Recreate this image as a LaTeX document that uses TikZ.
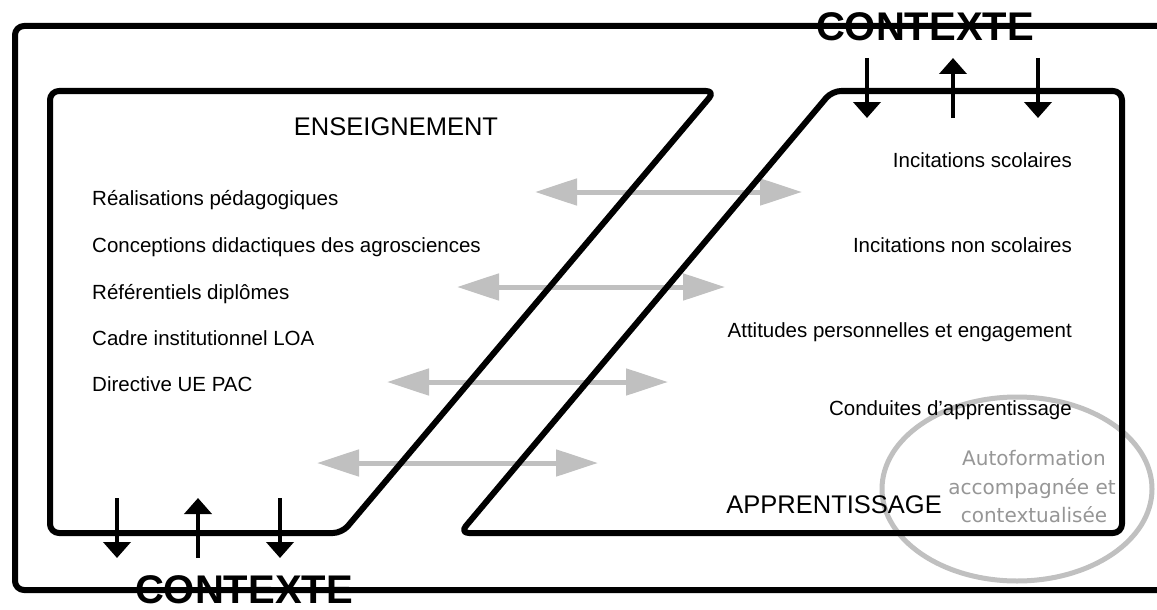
\documentclass[tikz,border=0pt]{standalone}
\usepackage{fontspec}
\setmainfont{Liberation Sans}
\newfontfamily\ctxfont{Liberation Sans}
\newfontfamily\handfont{DejaVu Sans}
\usetikzlibrary{arrows.meta}
\definecolor{arrgray}{RGB}{192,192,192}
\definecolor{ellgray}{RGB}{192,192,192}
\definecolor{txtgray}{RGB}{150,150,150}
\begin{document}
\begin{tikzpicture}[x=1pt,y=-1pt,
  frame/.style={line width=6pt, rounded corners=9pt, line join=round},
  ctx/.style={font=\ctxfont\bfseries\fontsize{40}{40}\selectfont, inner sep=0pt},
  item/.style={font=\fontsize{20.5}{24}\selectfont, inner sep=0pt},
  titletext/.style={font=\fontsize{25.5}{30}\selectfont, inner sep=0pt},
  handtext/.style={font=\handfont\fontsize{20}{24}\selectfont, text=txtgray, inner sep=0pt},
  flow/.style={line width=4pt, -{Triangle[width=27pt,length=16pt]}},
  exch/.style={draw=arrgray, line width=5pt, {Triangle[width=26pt,length=42pt]}-{Triangle[width=26pt,length=42pt]}},
]
\useasboundingbox (0,0) rectangle (1157,610);
\fill[white] (0,0) rectangle (1157,610);

% outer context frame
\coordinate (fa) at (1157,26);
\coordinate (fb) at (15,26);
\coordinate (fc) at (15,590);
\coordinate (fd) at (1157,590);
\draw[frame] (fa) -- (fb) -- (fc) -- (fd);

% ellipse
\draw[ellgray, line width=5pt] (1017,489) ellipse [x radius=135, y radius=92];

% exchange arrows
\coordinate (e1a) at (535,192); \coordinate (e1b) at (802,192);
\coordinate (e2a) at (457,287); \coordinate (e2b) at (725,287);
\coordinate (e3a) at (387,382); \coordinate (e3b) at (668,382);
\coordinate (e4a) at (317,463); \coordinate (e4b) at (598,463);
\draw[exch] (e1a) -- (e1b);
\draw[exch] (e2a) -- (e2b);
\draw[exch] (e3a) -- (e3b);
\draw[exch] (e4a) -- (e4b);

% boxes
\coordinate (l1) at (50,91);  \coordinate (l2) at (715,91);
\coordinate (l3) at (342,533); \coordinate (l4) at (50,533);
\draw[frame] (l1) -- (l2) -- (l3) -- (l4) -- cycle;
\coordinate (r1) at (832,91);  \coordinate (r2) at (1122,91);
\coordinate (r3) at (1122,533); \coordinate (r4) at (460,533);
\draw[frame] (r1) -- (r2) -- (r3) -- (r4) -- cycle;

% context labels
\node[ctx] (ctxtop) at (925,27) {CONTEXTE};
\node[ctx] (ctxbot) at (244,590) {CONTEXTE};

% flow arrows top
\coordinate (t1s) at (867,58);  \coordinate (t1e) at (867,118);
\coordinate (t2s) at (953,118); \coordinate (t2e) at (953,58);
\coordinate (t3s) at (1038,58); \coordinate (t3e) at (1038,118);
\draw[flow] (t1s) -- (t1e);
\draw[flow] (t2s) -- (t2e);
\draw[flow] (t3s) -- (t3e);
% flow arrows bottom
\coordinate (b1s) at (117,498); \coordinate (b1e) at (117,558);
\coordinate (b2s) at (198,558); \coordinate (b2e) at (198,498);
\coordinate (b3s) at (280,498); \coordinate (b3e) at (280,558);
\draw[flow] (b1s) -- (b1e);
\draw[flow] (b2s) -- (b2e);
\draw[flow] (b3s) -- (b3e);

% titles
\node[titletext, anchor=base] (ens) at (396,135) {ENSEIGNEMENT};
\node[titletext, anchor=base east] (app) at (942,513) {APPRENTISSAGE};

% left items
\node[item, anchor=base west] (i1) at (92,205) {Réalisations pédagogiques};
\node[item, anchor=base west] (i2) at (92,252) {Conceptions didactiques des agrosciences};
\node[item, anchor=base west] (i3) at (92,299) {Référentiels diplômes};
\node[item, anchor=base west] (i4) at (92,345) {Cadre institutionnel LOA};
\node[item, anchor=base west] (i5) at (92,391) {Directive UE PAC};

% right items
\node[item, anchor=base east] (j1) at (1072,167) {Incitations scolaires};
\node[item, anchor=base east] (j2) at (1072,252) {Incitations non scolaires};
\node[item, anchor=base east] (j3) at (1072,337) {Attitudes personnelles et engagement};
\node[item, anchor=base east] (j4) at (1072,415) {Conduites d’apprentissage};

% hand text
\node[handtext, anchor=base] (h1) at (1034,465) {Autoformation};
\node[handtext, anchor=base] (h2) at (1032,494) {accompagnée et};
\node[handtext, anchor=base] (h3) at (1034,522) {contextualisée};
\end{tikzpicture}
\end{document}
